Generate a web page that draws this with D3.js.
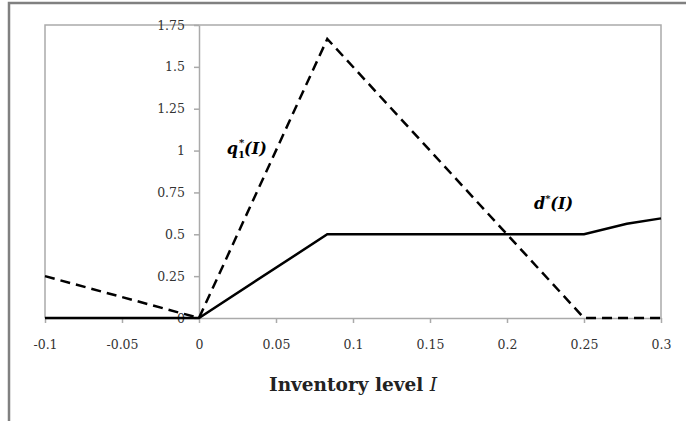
<!DOCTYPE html>
<html>
<head>
<meta charset="utf-8">
<script src="https://cdn.jsdelivr.net/npm/d3@7"></script>
<style>
  body { margin: 0; background: #fff; }
  svg { display: block; }
</style>
</head>
<body>
<svg id="chart" width="686" height="421"></svg>
<script>
// inventory level I
var qI = [-0.1, 0, 0.0833, 0.25, 0.3];
var qVal = [0.25, 0, 1.667, 0, 0];
var dI = [-0.1, 0, 0.0833, 0.25, 0.2778, 0.3];
var dVal = [0, 0, 0.5, 0.5, 0.5625, 0.595];
var xTicks = [-0.1, -0.05, 0, 0.05, 0.1, 0.15, 0.2, 0.25, 0.3];
var yTicks = [0, 0.25, 0.5, 0.75, 1, 1.25, 1.5, 1.75];

(function () {
  var svg = d3.select("#chart"),
      margin = {top: 25, right: 25, bottom: 103, left: 45},
      width = +svg.attr("width") - margin.left - margin.right,
      height = +svg.attr("height") - margin.top - margin.bottom;

  // outer frame (left + top only)
  svg.append("path")
      .attr("d", "M9,421 V3 H686")
      .attr("fill", "none")
      .attr("stroke", "#808080")
      .attr("stroke-width", 2.5);

  var g = svg.append("g").attr("transform", "translate(" + margin.left + "," + margin.top + ")");

  var x = d3.scaleLinear().domain([-0.1, 0.3]).range([0, width]);
  var y = d3.scaleLinear().domain([0, 1.75]).range([height, 0]);

  // plot area border
  g.append("path")
      .attr("d", "M0," + height + " V0 H" + width + " V" + height)
      .attr("fill", "none")
      .attr("stroke", "#aaa")
      .attr("stroke-width", 1.5);

  var xAxis = g.append("g")
      .attr("transform", "translate(0," + height + ")")
      .call(d3.axisBottom(x).tickValues(xTicks).tickSize(5).tickSizeOuter(0).tickFormat(function (d) { return String(+d.toFixed(2)); }));
  xAxis.select(".domain").attr("stroke", "#aaa").attr("stroke-width", 1.5);
  xAxis.selectAll(".tick line").attr("stroke", "#aaa").attr("stroke-width", 1.5);
  xAxis.selectAll("text")
      .attr("dy", "1.85em")
      .style("font-family", "'DejaVu Serif', serif")
      .style("font-size", "12.5px")
      .attr("fill", "#333");

  var yAxis = g.append("g")
      .attr("transform", "translate(" + x(0) + ",0)")
      .call(d3.axisLeft(y).tickValues(yTicks).tickSize(5).tickSizeOuter(0).tickFormat(function (d) { return String(d); }));
  yAxis.select(".domain").attr("stroke", "#aaa").attr("stroke-width", 1.5);
  yAxis.selectAll(".tick line").attr("stroke", "#aaa").attr("stroke-width", 1.5);
  yAxis.selectAll("text")
      .attr("x", -14)
      .style("font-family", "'DejaVu Serif', serif")
      .style("font-size", "12.5px")
      .attr("fill", "#333");

  var line = d3.line()
      .x(function (d) { return x(d[0]); })
      .y(function (d) { return y(d[1]); });

  g.append("path")
      .datum(dI.map(function (v, i) { return [v, dVal[i]]; }))
      .attr("d", line)
      .attr("fill", "none")
      .attr("stroke", "#000")
      .attr("stroke-width", 2.5);

  g.append("path")
      .datum(qI.map(function (v, i) { return [v, qVal[i]]; }))
      .attr("d", line)
      .attr("fill", "none")
      .attr("stroke", "#000")
      .attr("stroke-width", 2.5)
      .attr("stroke-dasharray", "10,6");

  // curve labels
  var q = g.append("text")
      .attr("x", x(0.018))
      .attr("y", y(0.98))
      .style("font-family", "'DejaVu Serif', serif")
      .style("font-style", "italic")
      .style("font-weight", "bold")
      .style("font-size", "16px");
  q.append("tspan").text("q");
  q.append("tspan").attr("dy", 4).style("font-size", "10px").style("font-style", "normal").text("1");
  q.append("tspan").attr("dy", -12).attr("dx", -6).style("font-size", "10px").text("*");
  q.append("tspan").attr("dy", 8).text("(I)");

  var dl = g.append("text")
      .attr("x", x(0.2175))
      .attr("y", y(0.65))
      .style("font-family", "'DejaVu Serif', serif")
      .style("font-style", "italic")
      .style("font-weight", "bold")
      .style("font-size", "16px");
  dl.append("tspan").text("d");
  dl.append("tspan").attr("dy", -7).style("font-size", "10px").text("*");
  dl.append("tspan").attr("dy", 7).text("(I)");

  // axis title
  var t = svg.append("text")
      .attr("x", 353)
      .attr("y", 391)
      .attr("text-anchor", "middle")
      .style("font-family", "'DejaVu Serif', serif")
      .style("font-size", "18.5px")
      .style("font-weight", "bold")
      .attr("fill", "#222");
  t.append("tspan").text("Inventory level ");
  t.append("tspan").style("font-weight", "normal").style("font-style", "italic").text("I");
})();
</script>
</body>
</html>
